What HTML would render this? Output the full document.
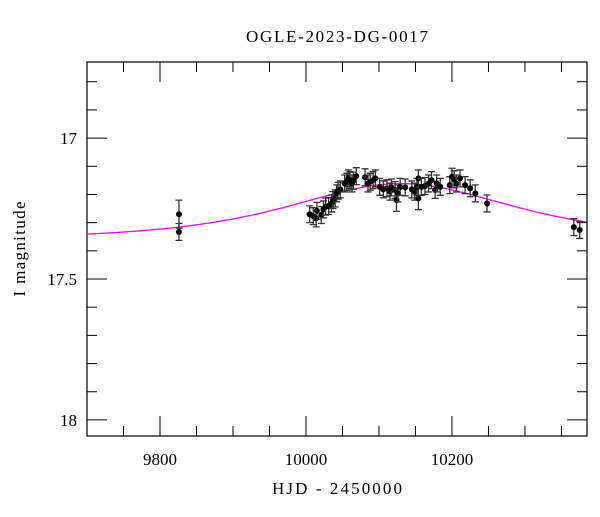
<!DOCTYPE html>
<html><head><meta charset="utf-8"><style>
body{margin:0;background:#fff}
svg text{font-family:"Liberation Serif",serif;fill:#000}
</style></head><body>
<svg id="c" width="600" height="512">
<text x="337" y="42" font-size="17" text-anchor="middle" textLength="182">OGLE-2023-DG-0017</text>
<text x="337" y="494" font-size="17" text-anchor="middle" textLength="130">HJD - 2450000</text>
<text transform="translate(25,249) rotate(-90)" font-size="17" text-anchor="middle" textLength="95">I magnitude</text>
<g id="plot"></g>
</svg>
<script>
const times=[9826,9826,10005,10010,10014,10015,10021,10024,10027,10031,10035,10037,10040,10042,10044,10047,10053,10056,10058,10060,10063,10065,10069,10081,10085,10088,10092,10095,10101,10106,10111,10115,10117,10122,10124,10126,10129,10136,10145,10149,10152,10154,10154,10158,10163,10168,10172,10177,10179,10184,10197,10200,10203,10206,10211,10218,10225,10232,10248,10367,10375];
const mags=[17.333,17.270,17.270,17.277,17.285,17.258,17.273,17.253,17.243,17.241,17.232,17.220,17.214,17.196,17.187,17.182,17.161,17.155,17.143,17.149,17.161,17.151,17.135,17.139,17.161,17.155,17.149,17.143,17.173,17.182,17.178,17.190,17.175,17.184,17.220,17.196,17.173,17.175,17.182,17.190,17.173,17.143,17.214,17.173,17.170,17.161,17.149,17.184,17.161,17.173,17.167,17.137,17.146,17.161,17.143,17.167,17.178,17.196,17.232,17.316,17.326];
const errs=[0.03,0.05,0.03,0.03,0.03,0.03,0.03,0.03,0.03,0.03,0.03,0.03,0.03,0.03,0.03,0.03,0.03,0.03,0.03,0.03,0.03,0.03,0.03,0.03,0.03,0.03,0.03,0.03,0.03,0.03,0.03,0.03,0.03,0.03,0.04,0.03,0.03,0.03,0.03,0.03,0.03,0.03,0.04,0.03,0.03,0.03,0.03,0.03,0.03,0.03,0.03,0.03,0.03,0.03,0.03,0.03,0.03,0.03,0.03,0.03,0.03];
const xTicks=[9800,10000,10200];
const yTicks=[17,17.5,18];
const model={t0:10130,tE:162,u0:1.27,base:17.36};
const L=87,R=587,T=62,B=436,X0=9700,X1=10385,Y0=16.73,Y1=18.057;
const sx=t=>L+(t-X0)/(X1-X0)*(R-L);
const sy=m=>T+(m-Y0)/(Y1-Y0)*(B-T);
const NS="http://www.w3.org/2000/svg",g=document.getElementById('plot');
function mk(tag,a){const e=document.createElementNS(NS,tag);for(const k in a)e.setAttribute(k,a[k]);g.appendChild(e);return e;}
let e=mk('rect',{x:L,y:T,width:R-L,height:B-T,fill:'none',stroke:'#000','stroke-width':1.2});


for(let t=9750;t<=X1;t+=50){const maj=t%200===0;const len=maj?20:10;const x=sx(t);
 e=mk('line',{x1:x,x2:x,y1:B,y2:B-len,stroke:'#000'});
 
 
 e=mk('line',{x1:x,x2:x,y1:T,y2:T+len,stroke:'#000'});
 
 }
for(let i=0;i<=13;i++){const m=16.8+i*0.1;if(m>Y1)break;const maj=Math.abs(m*2-Math.round(m*2))<1e-6;const len=maj?20:10;const y=sy(m);
 e=mk('line',{x1:L,x2:L+len,y1:y,y2:y,stroke:'#000'});
 
 
 e=mk('line',{x1:R,x2:R-len,y1:y,y2:y,stroke:'#000'});
 
 }
xTicks.forEach(t=>{e=mk('text',{x:sx(t),y:B+29,'font-size':17,'text-anchor':'middle'});e.textContent=t;
 
 });
yTicks.forEach(m=>{e=mk('text',{x:L-10,y:sy(m)+6,'font-size':17,'text-anchor':'end'});e.textContent=m;
 
 });
let d='';for(let t=X0;t<=X1;t+=2){const u=Math.sqrt(model.u0**2+((t-model.t0)/model.tE)**2);const A=(u*u+2)/(u*Math.sqrt(u*u+4));const m=model.base-2.5*Math.log10(A);d+=(d?'L':'M')+sx(t).toFixed(1)+','+sy(m).toFixed(1);}
e=mk('path',{d:d,fill:'none',stroke:'#ff00ff','stroke-width':1.3});


times.forEach((t,i)=>{const x=sx(t),y1=sy(mags[i]-errs[i]),y2=sy(mags[i]+errs[i]);
 e=mk('path',{d:`M${x},${y1}V${y2}M${x-3.5},${y1}H${x+3.5}M${x-3.5},${y2}H${x+3.5}`,stroke:'#333','stroke-width':1.3,fill:'none'});
 
 
 e=mk('circle',{cx:x,cy:sy(mags[i]),r:3,fill:'#000'});
 
 });
</script>
</body></html>
